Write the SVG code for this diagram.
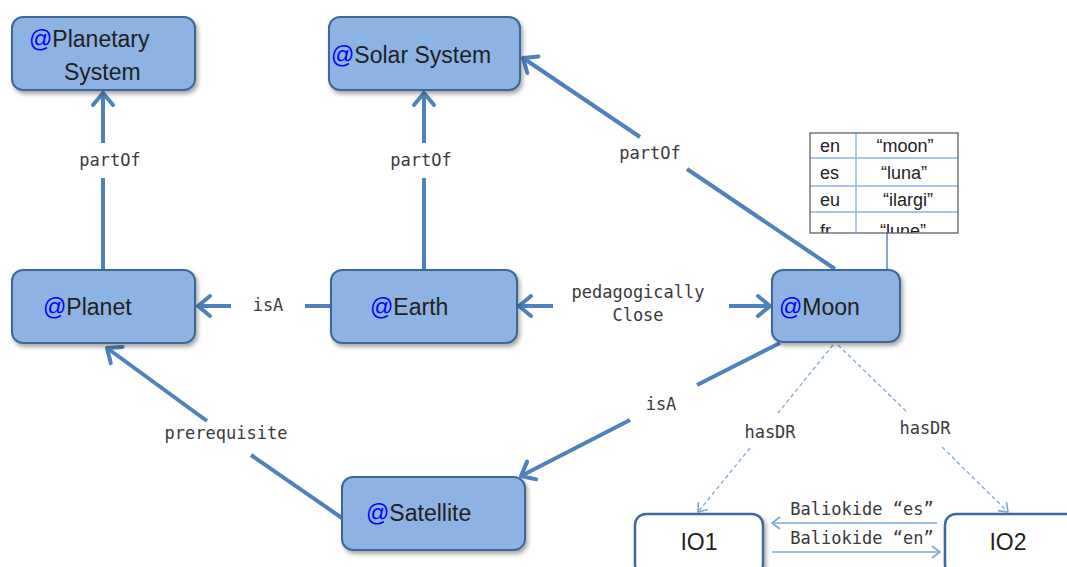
<svg xmlns="http://www.w3.org/2000/svg" width="1067" height="567" viewBox="0 0 1067 567">
<style>
.node{fill:#8db3e2;stroke:#3e6896;stroke-width:2;filter:url(#sh)}
.inode{fill:#ffffff;stroke:#41699e;stroke-width:2.5;filter:url(#sh)}
.nt{font-family:"Liberation Sans",Arial,sans-serif;font-size:23px;fill:#1f1f1f}
.at{fill:#0000ff}
.lbl{font-family:"DejaVu Sans Mono","Liberation Mono",monospace;font-size:17px;fill:#3a3a3a;text-anchor:middle}
.thick{fill:none;stroke:#4f81bd;stroke-width:4}
.thin{fill:none;stroke:#7fa7d9;stroke-width:1.6}
.dash{fill:none;stroke:#7fa7d9;stroke-width:1.3;stroke-dasharray:4 3}
.tt{font-family:"Liberation Sans",Arial,sans-serif;font-size:18px;fill:#222}
</style>
<defs>
<filter id="sh" x="-10%" y="-10%" width="130%" height="140%">
<feDropShadow dx="2" dy="3" stdDeviation="2" flood-color="#000" flood-opacity="0.35"/>
</filter>
<marker id="ah" markerUnits="userSpaceOnUse" viewBox="-16 -14 20 28" refX="0" refY="0" markerWidth="20" markerHeight="28" orient="auto" overflow="visible">
<path d="M-12,-10 L0,0 L-12,10" fill="none" stroke="#4f81bd" stroke-width="4" stroke-linejoin="round" stroke-linecap="round"/>
</marker>
<marker id="ahs" markerUnits="userSpaceOnUse" viewBox="-12 -8 14 16" refX="0" refY="0" markerWidth="14" markerHeight="16" orient="auto" overflow="visible">
<path d="M-8,-6 L0,0 L-8,6" fill="none" stroke="#7fa7d9" stroke-width="1.6" stroke-linejoin="round"/>
</marker>
<clipPath id="tclip"><rect x="810" y="133" width="148" height="100"/></clipPath>
</defs>

<g id="connectors">
<!-- Planet -> Planetary System -->
<path class="thick" d="M103,270 L103,178"/>
<path class="thick" d="M103,143 L103,93" marker-end="url(#ah)"/>
<!-- Earth -> Solar System -->
<path class="thick" d="M424,270 L424,178"/>
<path class="thick" d="M424,143 L424,93" marker-end="url(#ah)"/>
<!-- Moon -> Solar System -->
<path class="thick" d="M835,269 L687,169"/>
<path class="thick" d="M640,137 L523,58" marker-end="url(#ah)"/>
<!-- Earth -> Planet isA -->
<path class="thick" d="M331,306 L305,306"/>
<path class="thick" d="M231,306 L198,306" marker-end="url(#ah)"/>
<!-- Earth <-> Moon -->
<path class="thick" d="M553,306 L519,306" marker-end="url(#ah)"/>
<path class="thick" d="M729,306 L770,306" marker-end="url(#ah)"/>
<!-- Satellite -> Planet prerequisite -->
<path class="thick" d="M342,518 L251,455"/>
<path class="thick" d="M207,421 L107,348" marker-end="url(#ah)"/>
<!-- Moon -> Satellite isA -->
<path class="thick" d="M780,343 L697,385"/>
<path class="thick" d="M630,420 L521,476" marker-end="url(#ah)"/>
<!-- Moon -> IO1 hasDR -->
<path class="dash" d="M833,345 L778,413"/>
<path class="dash" d="M750,448 L698,512" marker-end="url(#ahs)"/>
<!-- Moon -> IO2 hasDR -->
<path class="dash" d="M838,345 L907,412"/>
<path class="dash" d="M942,447 L1008,512" marker-end="url(#ahs)"/>
<!-- IO2 -> IO1 / IO1 -> IO2 -->
<path class="thin" d="M937,523 L772,523" marker-end="url(#ahs)"/>
<path class="thin" d="M772,552 L940,552" marker-end="url(#ahs)"/>
<!-- table -> Moon -->
<path d="M887,233 L887,270" fill="none" stroke="#7fa7d9" stroke-width="2"/>

<text class="lbl" x="110" y="166">partOf</text>
<text class="lbl" x="421" y="166">partOf</text>
<text class="lbl" x="650" y="159">partOf</text>
<text class="lbl" x="268" y="311">isA</text>
<text class="lbl" x="638" y="298">pedagogically</text>
<text class="lbl" x="638" y="321">Close</text>
<text class="lbl" x="226" y="439">prerequisite</text>
<text class="lbl" x="661" y="410">isA</text>
<text class="lbl" x="770" y="438">hasDR</text>
<text class="lbl" x="925" y="434">hasDR</text>
<text class="lbl" x="862" y="515">Baliokide “es”</text>
<text class="lbl" x="862" y="544">Baliokide “en”</text>
</g>

<g id="node-planetary-system">
<rect class="node" x="12" y="17" width="183" height="73" rx="11"/>
<text class="nt" x="29" y="47"><tspan class="at">@</tspan>Planetary</text>
<text class="nt" x="64" y="80">System</text>
</g>
<g id="node-solar-system">
<rect class="node" x="329" y="17" width="191" height="73" rx="11"/>
<text class="nt" x="331" y="63"><tspan class="at">@</tspan>Solar System</text>
</g>
<g id="node-planet">
<rect class="node" x="12" y="270" width="183" height="73" rx="11"/>
<text class="nt" x="43" y="315"><tspan class="at">@</tspan>Planet</text>
</g>
<g id="node-earth">
<rect class="node" x="331" y="270" width="186" height="73" rx="11"/>
<text class="nt" x="370" y="315"><tspan class="at">@</tspan>Earth</text>
</g>
<g id="node-moon">
<rect class="node" x="772" y="270" width="128" height="72" rx="11"/>
<text class="nt" x="779" y="315"><tspan class="at">@</tspan>Moon</text>
</g>
<g id="node-satellite">
<rect class="node" x="342" y="477" width="183" height="73" rx="11"/>
<text class="nt" x="366" y="521"><tspan class="at">@</tspan>Satellite</text>
</g>
<g id="node-io1">
<rect class="inode" x="635" y="514" width="128" height="62" rx="11"/>
<text class="nt" x="699" y="550" text-anchor="middle">IO1</text>
</g>
<g id="node-io2">
<rect class="inode" x="945" y="514" width="140" height="62" rx="11"/>
<text class="nt" x="1008" y="550" text-anchor="middle">IO2</text>
</g>

<g id="node-labels-table">
<rect x="810" y="133" width="148" height="100" fill="#ffffff"/>
<g stroke="#8db3e2" stroke-width="1.5">
<line x1="856" y1="133" x2="856" y2="233"/>
<line x1="810" y1="158" x2="958" y2="158"/>
<line x1="810" y1="186" x2="958" y2="186"/>
<line x1="810" y1="212" x2="958" y2="212"/>
</g>
<g clip-path="url(#tclip)">
<text class="tt" x="820" y="152">en</text>
<text class="tt" x="905" y="152" text-anchor="middle">“moon”</text>
<text class="tt" x="820" y="179">es</text>
<text class="tt" x="904" y="179" text-anchor="middle">“luna”</text>
<text class="tt" x="820" y="206">eu</text>
<text class="tt" x="908" y="206" text-anchor="middle">“ilargi”</text>
<text class="tt" x="820" y="237">fr</text>
<text class="tt" x="903" y="237" text-anchor="middle">“lune”</text>
</g>
<rect x="810" y="133" width="148" height="100" fill="none" stroke="#555555" stroke-width="1.2"/>
</g>
</svg>
